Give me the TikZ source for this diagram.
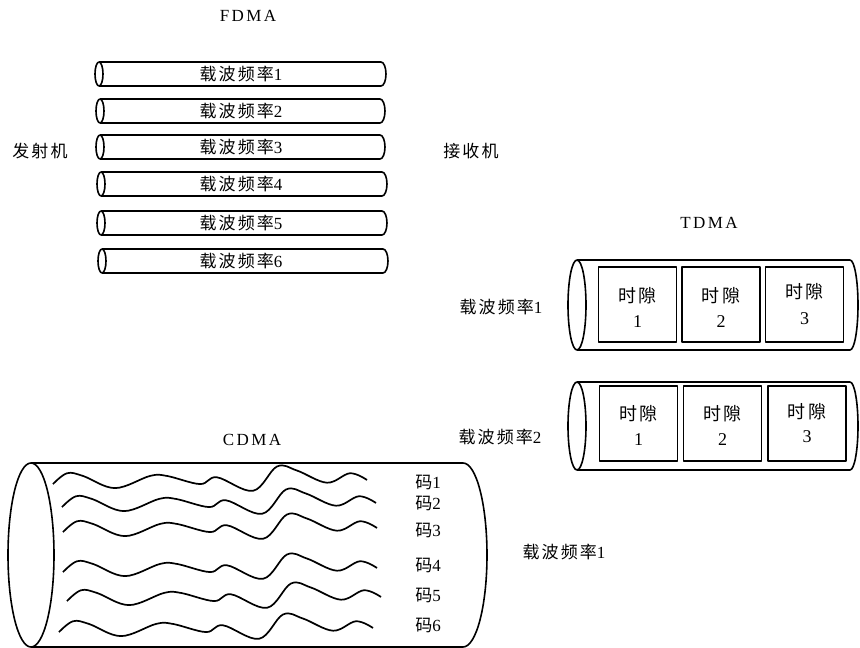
\documentclass[tikz,border=0pt]{standalone}
\usepackage{fontspec}
\setmainfont{Liberation Serif}
\newfontfamily\cjk[LetterSpace=12]{Noto Sans CJK SC}
\newfontfamily\ttlfont[LetterSpace=14]{Liberation Serif}
\begin{document}
\begin{tikzpicture}[x=1pt,y=-1pt,line width=1.6pt,line join=round,
  lbl/.style={inner sep=0pt,font=\fontsize{17}{20}\selectfont},
  ttl/.style={inner sep=0pt,font=\ttlfont\fontsize{17}{20}\selectfont},
  slot/.style={draw,inner sep=0pt,minimum width=78pt,minimum height=75pt},
  wave/.pic={\draw[line width=1.7pt,yscale=1.35] plot[smooth,tension=0.6] coordinates
     {(0,3) (14,-5) (30,-3) (62,6) (97,-3) (114,-3) (147,3) (164,-2) (200,8)
      (224,-10) (244,-7) (274,2) (297,-5) (314,0)};}
]
\useasboundingbox (0,0) rectangle (860,648);

% ---------- FDMA ----------
\node[ttl] (fdma) at (248,16) {FDMA};
\foreach \i/\y/\xl/\xr in {1/74/99/386,2/111/100/385,3/147/100/385,4/184/101/387,5/223/101/387,6/261/102/388}{
  \draw (\xl,{\y-12}) -- ({\xr-5},{\y-12}) arc[start angle=-90,end angle=90,x radius=5,y radius=12] -- (\xl,{\y+12});
  \draw (\xl,\y) ellipse[x radius=4,y radius=12];
  \node[lbl] (f\i) at (241,\y) {{\cjk 载波频率}\i};
}
\node[lbl] (tx) at (40,151) {\cjk 发射机};
\node[lbl] (rx) at (471,151) {\cjk 接收机};

% ---------- TDMA ----------
\node[ttl] (tdma) at (709,223) {TDMA};
\foreach \t/\yc/\ry in {1/305/45,2/426/44}{
  \draw (577,{\yc-\ry}) -- (850,{\yc-\ry}) arc[start angle=-90,end angle=90,x radius=8,y radius=\ry] -- (577,{\yc+\ry});
  \draw (577,\yc) ellipse[x radius=9,y radius=\ry];
}
\node[lbl] (tl1) at (501,307) {{\cjk 载波频率}1};
\node[lbl] (tl2) at (500,437) {{\cjk 载波频率}2};

\node[slot] (a1) at (637.5,304.5) {};
\node[slot] (a2) at (721,304.5) {};
\node[slot] (a3) at (804.5,304.5) {};
\node[slot] (b1) at (638.5,423.5) {};
\node[slot] (b2) at (722.5,423.5) {};
\node[slot] (b3) at (807,423.5) {};
\foreach \n/\x/\ya/\yb/\k in {a1/637.5/296/322/1,a2/721/296/322/2,a3/804.5/292/319/3,
                              b1/638.5/414/440/1,b2/722.5/414/440/2,b3/807/412/437/3}{
  \node[lbl,font=\fontsize{18}{20}\selectfont] (\n t) at (\x,\ya) {\cjk 时隙};
  \node[lbl,font=\fontsize{18}{20}\selectfont] (\n n) at (\x,\yb) {\k};
}

% ---------- CDMA ----------
\node[ttl] (cdma) at (252,440) {CDMA};
\draw (31,463) -- (463,463) arc[start angle=-90,end angle=90,x radius=24,y radius=92] -- (31,647);
\draw (31,555) ellipse[x radius=23,y radius=92];
\foreach \p in {(53,480),(62,503),(63,528),(63,568),(67,597),(59,628)}
  \pic at \p {wave};
\foreach \i/\y in {1/482,2/503,3/530,4/565,5/595,6/625}
  \node[lbl] (c\i) at (428,\y) {{\cjk 码}\i};
\node[lbl] (cl) at (564,552) {{\cjk 载波频率}1};
\end{tikzpicture}
\end{document}
